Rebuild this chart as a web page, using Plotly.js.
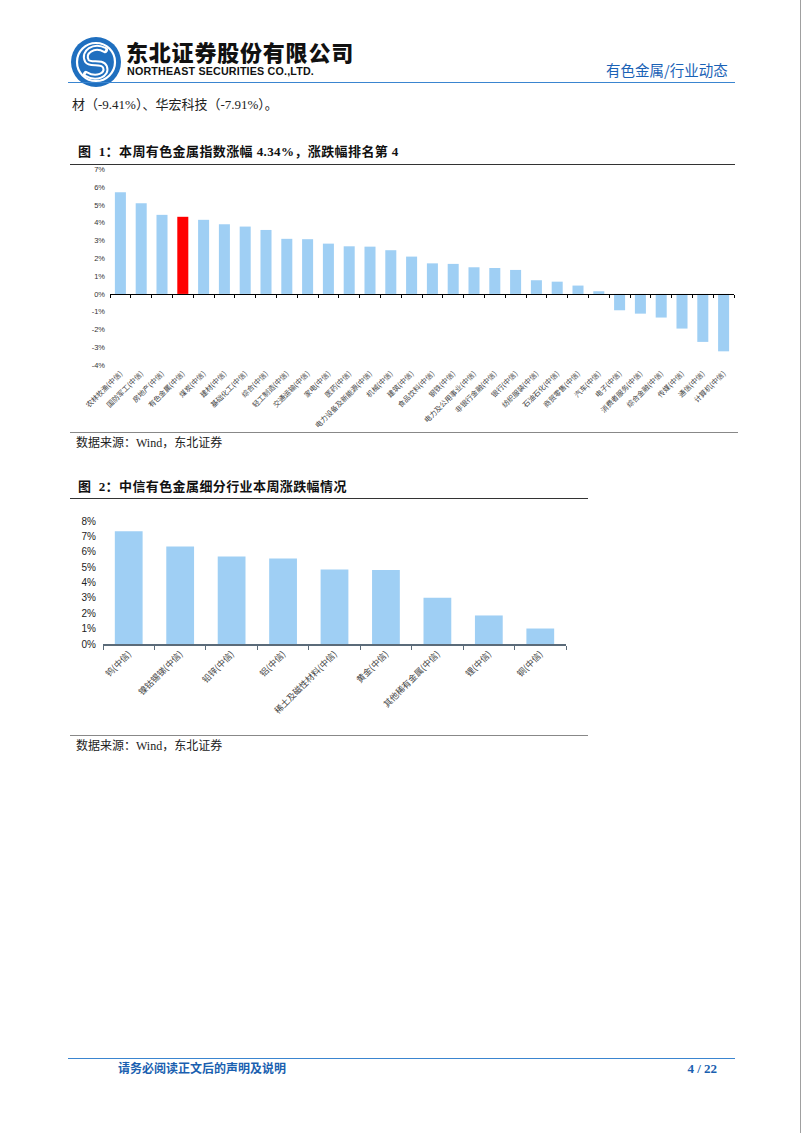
<!DOCTYPE html>
<html><head><meta charset="utf-8">
<script src="https://cdn.plot.ly/plotly-3.0.1.min.js"></script>
<style>
html,body{margin:0;padding:0;background:#fff;}
body{width:802px;height:1133px;position:relative;overflow:hidden;font-family:"Liberation Serif","Noto Sans CJK SC",serif;}
.abs{position:absolute;white-space:nowrap;}
.line{position:absolute;height:0;}
</style></head>
<body>
<!-- right page edge -->
<div class="abs" style="left:800px;top:0;width:1px;height:1133px;background:#a0a0a0;"></div>

<!-- header logo -->
<svg class="abs" style="left:70px;top:36px" width="52" height="52" viewBox="0 0 52 52">
  <circle cx="26" cy="26" r="25" fill="#1f6fbf"/>
  <circle cx="26" cy="26" r="19" fill="none" stroke="#fff" stroke-width="2.2"/>
  <path d="M35 14 C24 8 12 16 17 25 C20 30 32 24 35 31 C38 39 26 44 16 38" fill="none" stroke="#fff" stroke-width="6" stroke-linecap="round"/>
  <path d="M35 14 C24 8 12 16 17 25 C20 30 32 24 35 31 C38 39 26 44 16 38" fill="none" stroke="#1f6fbf" stroke-width="2"/>
</svg>
<div class="abs" style="left:126px;top:38px;font-family:'Noto Sans CJK SC';font-weight:900;font-size:22px;letter-spacing:0.8px;color:#111;line-height:26px;">东北证券股份有限公司</div>
<div class="abs" style="left:127px;top:64px;font-family:'Liberation Sans',Arial;font-weight:bold;font-size:11.5px;color:#111;letter-spacing:0.2px;line-height:14px;transform-origin:0 0;transform:scaleX(0.93);">NORTHEAST SECURITIES CO.,LTD.</div>
<div class="abs" style="left:606px;top:60px;font-family:'Noto Sans CJK SC';font-size:14.5px;color:#1a62b6;line-height:20px;">有色金属/行业动态</div>
<div class="line" style="left:68px;top:82px;width:667px;border-top:1.5px solid #3a85d0;"></div>

<div class="abs" style="left:72px;top:95px;font-size:13px;color:#222;line-height:20px;">材（-9.41%）、华宏科技（-7.91%）。</div>

<!-- figure 1 -->
<div class="abs" style="left:78px;top:143px;font-size:13px;font-weight:bold;color:#111;line-height:18px;letter-spacing:0.4px;">图&nbsp;&nbsp;1：本周有色金属指数涨幅 4.34%，涨跌幅排名第 4</div>
<div class="line" style="left:70px;top:164px;width:665px;border-top:1.5px solid #333;"></div>
<div id="c1" class="abs" style="left:60px;top:156px;width:690px;height:275px;"></div>
<div class="line" style="left:70px;top:432px;width:668px;border-top:1px solid #888;"></div>
<div class="abs" style="left:76px;top:435px;font-size:12px;color:#222;line-height:17px;">数据来源：Wind，东北证券</div>

<!-- figure 2 -->
<div class="abs" style="left:78px;top:478px;font-size:13px;font-weight:bold;color:#111;line-height:18px;letter-spacing:0.4px;">图&nbsp;&nbsp;2：中信有色金属细分行业本周涨跌幅情况</div>
<div class="line" style="left:70px;top:498px;width:518px;border-top:1.5px solid #333;"></div>
<div id="c2" class="abs" style="left:60px;top:505px;width:530px;height:230px;"></div>
<div class="line" style="left:70px;top:735px;width:518px;border-top:1px solid #888;"></div>
<div class="abs" style="left:76px;top:738px;font-size:12px;color:#222;line-height:17px;">数据来源：Wind，东北证券</div>

<!-- footer -->
<div class="line" style="left:68px;top:1058px;width:667px;border-top:1.5px solid #3a85d0;"></div>
<div class="abs" style="left:118px;top:1061px;font-size:12px;font-weight:bold;color:#1a5fb0;line-height:17px;">请务必阅读正文后的声明及说明</div>
<div class="abs" style="right:85px;top:1060px;font-size:13px;font-weight:bold;color:#1a5fb0;line-height:17px;">4 / 22</div>

<script>
// ---- data: figure 1 ----
const industries = ["农林牧渔(中信)","国防军工(中信)","房地产(中信)","有色金属(中信)","煤炭(中信)","建材(中信)","基础化工(中信)","综合(中信)","轻工制造(中信)","交通运输(中信)","家电(中信)","医药(中信)","电力设备及新能源(中信)","机械(中信)","建筑(中信)","食品饮料(中信)","钢铁(中信)","电力及公用事业(中信)","非银行金融(中信)","银行(中信)","纺织服装(中信)","石油石化(中信)","商贸零售(中信)","汽车(中信)","电子(中信)","消费者服务(中信)","综合金融(中信)","传媒(中信)","通信(中信)","计算机(中信)"];
const industryChange = [5.72,5.10,4.45,4.34,4.17,3.92,3.79,3.60,3.10,3.08,2.83,2.68,2.66,2.46,2.10,1.72,1.69,1.50,1.46,1.35,0.77,0.69,0.47,0.15,-0.92,-1.11,-1.33,-1.95,-2.70,-3.23];
const highlight = "有色金属(中信)";
const y1Ticks = [-4,-3,-2,-1,0,1,2,3,4,5,6,7];

// ---- data: figure 2 ----
const subIndustries = ["钨(中信)","镍钴锡锑(中信)","铅锌(中信)","铝(中信)","稀土及磁性材料(中信)","黄金(中信)","其他稀有金属(中信)","锂(中信)","铜(中信)"];
const subChange = [7.35,6.35,5.71,5.58,4.86,4.82,3.02,1.86,1.01];
const y2Ticks = [0,1,2,3,4,5,6,7,8];

const BLUE = "#9fcff4", RED = "#ff0000";
const cjk = "'Noto Sans CJK SC', sans-serif";
const cfg = {staticPlot:true, displayModeBar:false};
const CLEAR = "rgba(0,0,0,0)";

Plotly.newPlot("c1", [
  {type:"bar", x:industries, y:industryChange, xaxis:"x", yaxis:"y",
   marker:{color:industries.map(c => c === highlight ? RED : BLUE), line:{width:0}}, hoverinfo:"skip"},
  {type:"bar", x:industries, y:industryChange, xaxis:"x2", yaxis:"y",
   marker:{color:CLEAR}, hoverinfo:"skip"}
], {
  width:690, height:275, margin:{l:50, r:16, t:13, b:66},
  paper_bgcolor:CLEAR, plot_bgcolor:CLEAR, showlegend:false, bargap:0.47,
  xaxis:{type:"category", showline:false, ticks:"", showgrid:false, zeroline:false,
         tickangle:-45, tickfont:{family:cjk, size:7.2, color:"#444"}, automargin:false, ticklabelstandoff:2},
  xaxis2:{type:"category", overlaying:"x", anchor:"free", position:4/11.03, showline:true,
          linecolor:"#000", linewidth:1.3, ticks:"outside", tickson:"boundaries", ticklen:3,
          tickcolor:"#000", tickwidth:1, showticklabels:false, showgrid:false, zeroline:false},
  yaxis:{range:[-4,7.03], tickvals:y1Ticks, ticktext:y1Ticks.map(v => v + "%"), showgrid:false,
         zeroline:false, showline:false, ticks:"", ticklabelstandoff:4,
         tickfont:{family:"Liberation Sans, Arial", size:7.5, color:"#333"}, automargin:false}
}, cfg);

Plotly.newPlot("c2", [
  {type:"bar", x:subIndustries, y:subChange, marker:{color:BLUE, line:{width:0}}, hoverinfo:"skip"}
], {
  width:530, height:230, margin:{l:43, r:24, t:16, b:91},
  paper_bgcolor:CLEAR, plot_bgcolor:CLEAR, showlegend:false, bargap:0.46,
  xaxis:{type:"category", showline:true, linecolor:"#5b6b79", linewidth:1.6, ticks:"outside",
         tickson:"boundaries", ticklen:4, tickcolor:"#5b6b79", tickwidth:1, showgrid:false, zeroline:false,
         tickangle:-45, tickfont:{family:cjk, size:8.7, color:"#444"}, automargin:false},
  yaxis:{range:[0,8.02], tickvals:y2Ticks, ticktext:y2Ticks.map(v => v + "%"), showgrid:false,
         zeroline:false, showline:false, ticks:"", ticklabelstandoff:6,
         tickfont:{family:"Liberation Sans, Arial", size:10, color:"#222"}, automargin:false}
}, cfg);
</script>
</body></html>
